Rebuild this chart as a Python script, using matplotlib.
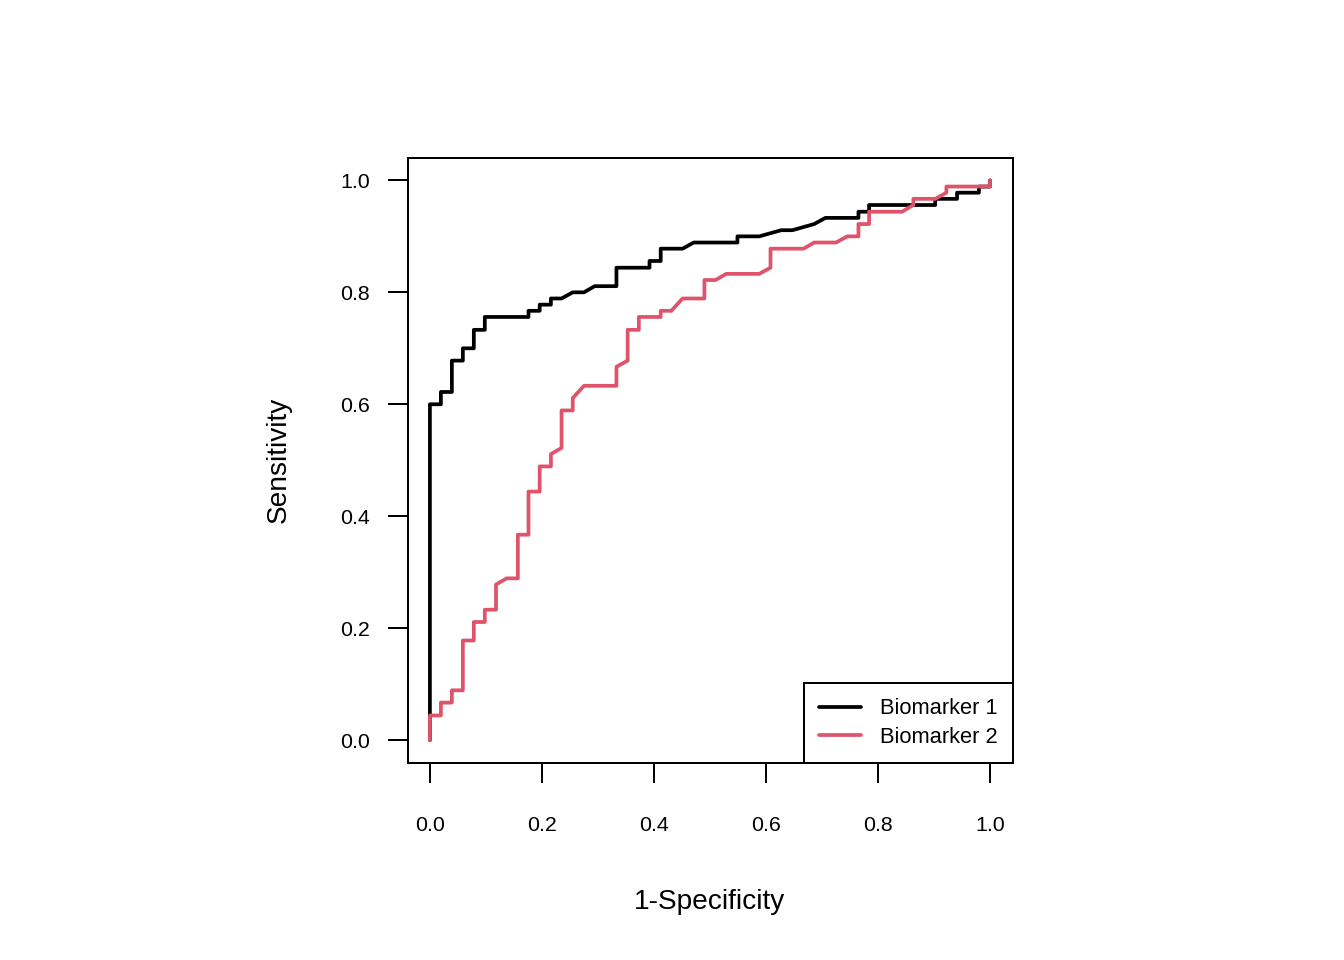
import matplotlib
matplotlib.use("Agg")
import matplotlib.pyplot as plt

# ---- data ----
bm1_fpr = [0, 0, 0.0196, 0.0196, 0.0392, 0.0392, 0.0588, 0.0588, 0.0784, 0.0784,
           0.098, 0.098, 0.176, 0.176, 0.196, 0.196, 0.216, 0.216, 0.235, 0.255,
           0.275, 0.294, 0.333, 0.333, 0.392, 0.392, 0.412, 0.412, 0.451, 0.471,
           0.549, 0.549, 0.588, 0.627, 0.647, 0.686, 0.706, 0.765, 0.765, 0.784,
           0.784, 0.902, 0.902, 0.941, 0.941, 0.98, 0.98, 1.0, 1.0]
bm1_tpr = [0, 0.6, 0.6, 0.622, 0.622, 0.678, 0.678, 0.7, 0.7, 0.733,
           0.733, 0.756, 0.756, 0.767, 0.767, 0.778, 0.778, 0.789, 0.789, 0.8,
           0.8, 0.811, 0.811, 0.844, 0.844, 0.856, 0.856, 0.878, 0.878, 0.889,
           0.889, 0.9, 0.9, 0.911, 0.911, 0.922, 0.933, 0.933, 0.944, 0.944,
           0.956, 0.956, 0.967, 0.967, 0.978, 0.978, 0.989, 0.989, 1.0]

bm2_fpr = [0, 0, 0.0196, 0.0196, 0.0392, 0.0392, 0.0588, 0.0588, 0.0784, 0.0784,
           0.098, 0.098, 0.118, 0.118, 0.137, 0.157, 0.157, 0.176, 0.176, 0.196,
           0.196, 0.216, 0.216, 0.235, 0.235, 0.255, 0.255, 0.275, 0.333, 0.333,
           0.353, 0.353, 0.373, 0.373, 0.412, 0.412, 0.431, 0.451, 0.490, 0.490,
           0.510, 0.529, 0.588, 0.608, 0.608, 0.667, 0.686, 0.725, 0.745, 0.765,
           0.765, 0.784, 0.784, 0.843, 0.863, 0.863, 0.902, 0.922, 0.922, 1.0, 1.0]
bm2_tpr = [0, 0.044, 0.044, 0.067, 0.067, 0.089, 0.089, 0.178, 0.178, 0.211,
           0.211, 0.233, 0.233, 0.278, 0.289, 0.289, 0.367, 0.367, 0.444, 0.444,
           0.489, 0.489, 0.511, 0.522, 0.589, 0.589, 0.611, 0.633, 0.633, 0.667,
           0.678, 0.733, 0.733, 0.756, 0.756, 0.767, 0.767, 0.789, 0.789, 0.822,
           0.822, 0.833, 0.833, 0.844, 0.878, 0.878, 0.889, 0.889, 0.9, 0.9,
           0.922, 0.922, 0.944, 0.944, 0.956, 0.967, 0.967, 0.978, 0.989, 0.989, 1.0]

series_names = ["Biomarker 1", "Biomarker 2"]
tick_values = [0.0, 0.2, 0.4, 0.6, 0.8, 1.0]
tick_labels = ["0.0", "0.2", "0.4", "0.6", "0.8", "1.0"]
x_title = "1-Specificity"
y_title = "Sensitivity"

plt.rcParams["font.family"] = ["Liberation Sans", "DejaVu Sans"]

W, H = 1344, 960
fig = plt.figure(figsize=(W / 96, H / 96), dpi=96)
ax = fig.add_axes([407.5 / W, (H - 762.5) / H, 605 / W, 604.5 / H])

ax.plot(bm1_fpr, bm1_tpr, color="black", lw=2.8, solid_capstyle="round",
        solid_joinstyle="round", label=series_names[0])
ax.plot(bm2_fpr, bm2_tpr, color="#DF536B", lw=2.8, solid_capstyle="round",
        solid_joinstyle="round", label=series_names[1])

ax.set_xlim(-0.04, 1.04)
ax.set_ylim(-0.04, 1.04)
ax.set_xticks(tick_values)
ax.set_xticklabels(tick_labels)
ax.set_yticks(tick_values)
ax.set_yticklabels(tick_labels)

for s in ax.spines.values():
    s.set_linewidth(1.5)
    s.set_color("black")

ax.tick_params(direction="out", length=15, width=1.5, labelsize=16, colors="black")
ax.tick_params(axis="x", pad=25)
ax.tick_params(axis="y", pad=13)

ax.set_xlabel(x_title, fontsize=21)
ax.set_ylabel(y_title, fontsize=21)
ax.xaxis.set_label_coords(0.5, -0.209)
ax.yaxis.set_label_coords(-0.191, 0.5)

leg = ax.legend(loc="lower right", bbox_to_anchor=(1, 0), borderaxespad=0,
                fontsize=16.4, frameon=True, fancybox=False, framealpha=1,
                edgecolor="black", handlelength=1.95, handletextpad=0.85,
                borderpad=0.68, labelspacing=0.34)
leg.get_frame().set_linewidth(1.5)

fig.savefig("out.png", dpi=96, facecolor="white")
